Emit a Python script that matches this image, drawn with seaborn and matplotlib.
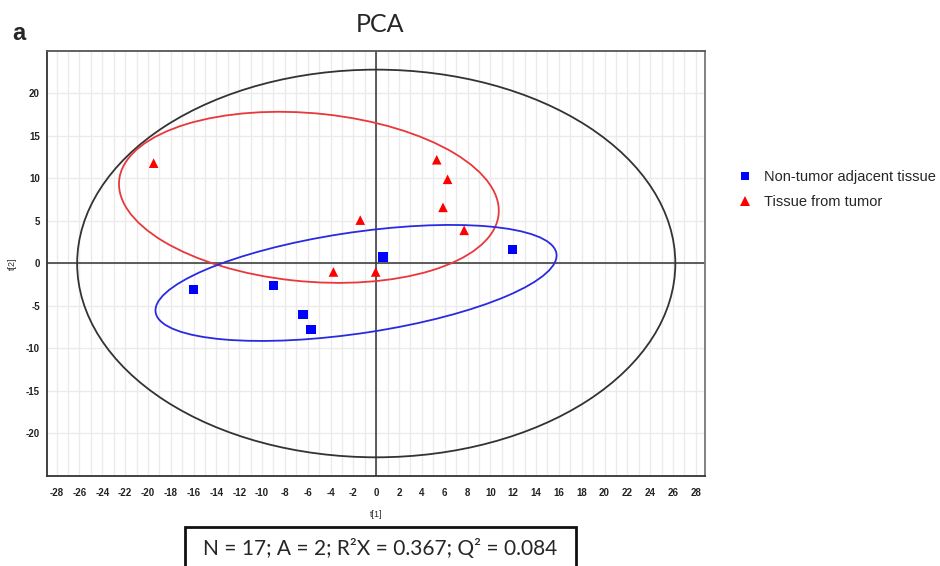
import numpy as np
import pandas as pd
import matplotlib
matplotlib.use('Agg')
import matplotlib.pyplot as plt
import seaborn as sns
from matplotlib.patches import Ellipse, Rectangle
from matplotlib.ticker import MultipleLocator, FixedLocator
from matplotlib.lines import Line2D

# ---- data ----
normal_label = "Non-tumor adjacent tissue"
tumor_label = "Tissue from tumor"

normal_t1 = [-16.0, -9.0, -6.4, -5.7, 0.6, 11.95]
normal_t2 = [-3.05, -2.6, -6.0, -7.75, 0.75, 1.65]

tumor_t1 = [-19.5, -1.4, -3.75, -0.05, 5.3, 6.25, 5.85, 7.7]
tumor_t2 = [11.8, 5.1, -1.0, -1.0, 12.2, 9.9, 6.6, 3.9]

# confidence ellipses: center x, center y, semi-axis a, semi-axis b, angle (deg)
hotelling = (0.0, 0.0, 26.2, 22.8, 0.0)
normal_ellipse = (-1.77, -2.29, 17.9, 5.9, 11.7)
tumor_ellipse = (-5.9, 7.78, 16.75, 9.87, -8.3)

x_ticks = list(range(-28, 29, 2))
y_ticks = [-20, -15, -10, -5, 0, 5, 10, 15, 20]

stats_text = "N = 17; A = 2; R\u00b2X = 0.367; Q\u00b2 = 0.084"

df = pd.DataFrame({
    "t1": normal_t1 + tumor_t1,
    "t2": normal_t2 + tumor_t2,
    "group": [normal_label] * len(normal_t1) + [tumor_label] * len(tumor_t1),
})

sns.set_style("white")
plt.rcParams['font.family'] = ['Liberation Sans', 'DejaVu Sans']
plt.rcParams['axes.unicode_minus'] = False

fig = plt.figure(figsize=(9.4, 5.66), dpi=100)
ax = fig.add_axes([0.0505, 0.159, 0.6995, 0.751])

ax.set_xlim(-28.8, 28.8)
ax.set_ylim(-25, 25)

ax.xaxis.set_major_locator(FixedLocator(x_ticks))
ax.xaxis.set_minor_locator(MultipleLocator(1))
ax.yaxis.set_major_locator(FixedLocator(y_ticks))
ax.yaxis.set_minor_locator(FixedLocator([v + 2.5 for v in y_ticks] + [-22.5]))
ax.grid(True, which='both', axis='x', color='#ebebeb', lw=1.0, zorder=0)
ax.grid(True, which='major', axis='y', color='#ebebeb', lw=1.0, zorder=0)
ax.set_axisbelow(True)

ax.axhline(0, color='#333333', lw=1.1, zorder=2)
ax.axvline(0, color='#333333', lw=1.1, zorder=2)

for (cx, cy, a, b, ang), col in [(hotelling, '#333333'), (tumor_ellipse, '#e8383b'),
                                 (normal_ellipse, '#2a2ae0')]:
    ax.add_patch(Ellipse((cx, cy), 2 * a, 2 * b, angle=ang, fill=False,
                         edgecolor=col, lw=1.3, zorder=3))

sns.scatterplot(data=df, x="t1", y="t2", hue="group", style="group",
                palette={normal_label: "#0000ff", tumor_label: "#ff0000"},
                markers={normal_label: "s", tumor_label: "^"},
                s=48, linewidth=0, legend=False, ax=ax, zorder=5)

tick_font = ['Liberation Sans Narrow', 'DejaVu Sans Condensed', 'Liberation Sans']
ax.tick_params(axis='both', which='both', direction='inout', color='#333333',
               labelsize=7, labelcolor='#222222')
ax.tick_params(axis='x', pad=6)
ax.tick_params(axis='y', pad=3)
ax.tick_params(which='major', length=5, width=0.9)
ax.tick_params(which='minor', length=4, width=0.9)
for lab in ax.get_xticklabels() + ax.get_yticklabels():
    lab.set_family(tick_font)
    lab.set_fontweight('bold')

ax.set_xlabel("t[1]", fontsize=6.5, color='#333333', labelpad=9, family=tick_font)
ax.set_ylabel("t[2]", fontsize=6.5, color='#333333', labelpad=6, family=tick_font)

for sp in ax.spines.values():
    sp.set_color('#333333')
    sp.set_linewidth(1.3)
ax.spines['right'].set_color('#777777')
ax.spines['top'].set_color('#555555')

# legend
handles = [
    Line2D([], [], marker='s', color='#0000ff', linestyle='none', markersize=5.5, markeredgewidth=0),
    Line2D([], [], marker='^', color='#ff0000', linestyle='none', markersize=6.5, markeredgewidth=0),
]
fig.legend(handles, [normal_label, tumor_label], loc='upper left',
           bbox_to_anchor=(0.772, 0.722), frameon=False,
           handlelength=0.8, handletextpad=0.9, labelspacing=0.75,
           prop={'family': 'Liberation Sans', 'size': 10.5})

# titles and annotations
fig.text(380 / 940, 1 - 24 / 566, "PCA", ha='center', va='center', fontsize=18,
         family=['Lato', 'DejaVu Sans'])
fig.text(12 / 940, 1 - 33 / 566, "a", ha='left', va='center', fontsize=17,
         fontweight='bold', family=['Liberation Sans', 'DejaVu Sans'])

fig.patches.append(Rectangle((185 / 940, -0.03), (576 - 185) / 940, (566 - 527) / 566 + 0.03,
                             transform=fig.transFigure, fill=False, lw=2.0,
                             edgecolor='#111111', clip_on=False))
fig.text(380 / 940, 1 - 549 / 566, stats_text, ha='center', va='center', fontsize=15,
         family=['Lato', 'DejaVu Sans'])

fig.savefig("out.png", dpi=100)
